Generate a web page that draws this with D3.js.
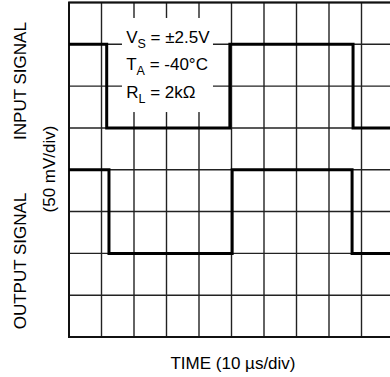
<!DOCTYPE html>
<html>
<head>
<meta charset="utf-8">
<script src="https://cdn.jsdelivr.net/npm/d3@7/dist/d3.min.js"></script>
<style>
  body { margin: 0; background: #fff; }
  text { font-family: "Liberation Sans", Arial, sans-serif; fill: #000; }
</style>
</head>
<body>
<div id="scope"></div>
<script>
// time axis in µs (10 µs/div), signal axis in mV (50 mV/div)
const timeTicks = d3.range(0, 101, 10);
const mvTicks = d3.range(-200, 201, 50);

// square wave edges: time of each level change and the level held after it
const inputTimes = [0, 11.6, 49.5, 87.4, 100];
const inputLevels = [150, 50, 150, 50, 50];
const outputTimes = [0, 12.3, 50.2, 87.1, 100];
const outputLevels = [0, -100, 0, -100, -100];

const conditions = [
  { main: "V", sub: "S", rest: " = ±2.5V" },
  { main: "T", sub: "A", rest: " = -40°C" },
  { main: "R", sub: "L", rest: " = 2kΩ" }
];

const W = 390, H = 377;
const margin = { top: 2.5, left: 69 };
const plot = { width: 325, height: 334.5 };

const svg = d3.select("#scope").append("svg")
  .attr("width", W)
  .attr("height", H);

const g = svg.append("g")
  .attr("transform", "translate(" + margin.left + "," + margin.top + ")");

const x = d3.scaleLinear().domain([0, 100]).range([0, plot.width]);
const y = d3.scaleLinear().domain([-200, 200]).range([plot.height, 0]);

// grid
g.selectAll(".vline").data(timeTicks).enter().append("line")
  .attr("x1", d => x(d)).attr("x2", d => x(d))
  .attr("y1", 0).attr("y2", plot.height)
  .attr("stroke", "#222").attr("stroke-width", 1.4);

g.selectAll(".hline").data(mvTicks).enter().append("line")
  .attr("x1", 0).attr("x2", plot.width)
  .attr("y1", d => y(d)).attr("y2", d => y(d))
  .attr("stroke", "#222").attr("stroke-width", 1.4);

// border
g.append("rect")
  .attr("width", plot.width).attr("height", plot.height)
  .attr("fill", "none").attr("stroke", "#111").attr("stroke-width", 2);

// conditions box (white patch over the grid)
g.append("rect")
  .attr("x", x(16.3)).attr("y", y(181.5))
  .attr("width", x(44.3) - x(16.3))
  .attr("height", y(69) - y(181.5))
  .attr("fill", "#fff");

const lineGen = d3.line()
  .x(d => x(d[0]))
  .y(d => y(d[1]))
  .curve(d3.curveStepAfter);

g.append("path")
  .datum(inputTimes.map((t, i) => [t, inputLevels[i]]))
  .attr("fill", "none").attr("stroke", "#000").attr("stroke-width", 3)
  .attr("d", lineGen);

g.append("path")
  .datum(outputTimes.map((t, i) => [t, outputLevels[i]]))
  .attr("fill", "none").attr("stroke", "#000").attr("stroke-width", 3)
  .attr("d", lineGen);

// conditions text
conditions.forEach((c, i) => {
  const t = g.append("text")
    .attr("x", x(17.6))
    .attr("y", y(151.5 - i * 32.8))
    .attr("font-size", 17);
  t.append("tspan").text(c.main);
  t.append("tspan").attr("font-size", 12.5).attr("dy", 5).text(c.sub);
  t.append("tspan").attr("dy", -5).text(c.rest);
});

// axis titles
svg.append("text")
  .attr("transform", "translate(26,81) rotate(-90)")
  .attr("text-anchor", "middle").attr("font-size", 17)
  .text("INPUT SIGNAL");

svg.append("text")
  .attr("transform", "translate(55,169) rotate(-90)")
  .attr("text-anchor", "middle").attr("font-size", 17)
  .text("(50 mV/div)");

svg.append("text")
  .attr("transform", "translate(26,261) rotate(-90)")
  .attr("text-anchor", "middle").attr("font-size", 17)
  .text("OUTPUT SIGNAL");

svg.append("text")
  .attr("x", 233).attr("y", 369)
  .attr("text-anchor", "middle").attr("font-size", 17)
  .text("TIME (10 µs/div)");
</script>
</body>
</html>
